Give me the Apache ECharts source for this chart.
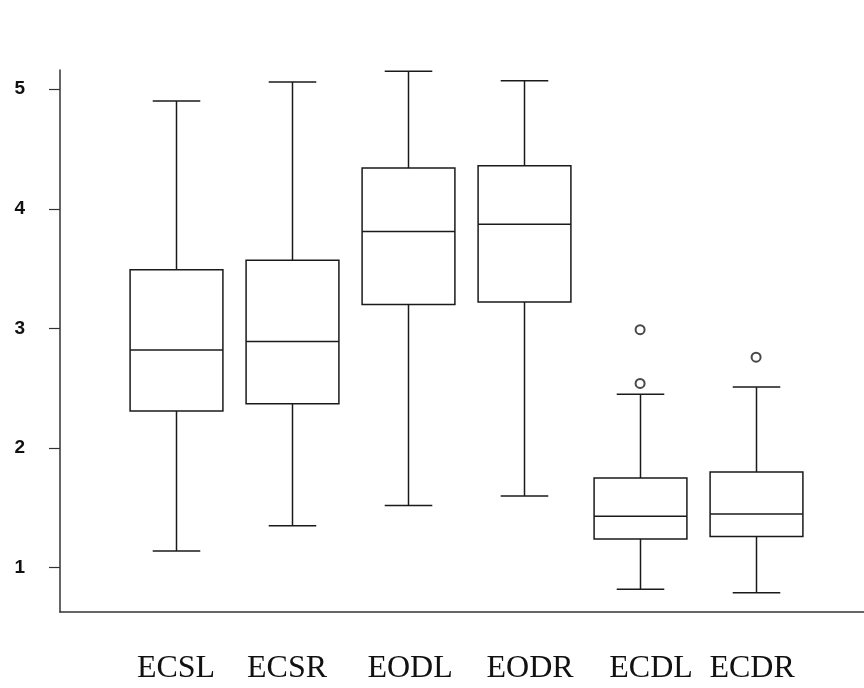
<!DOCTYPE html>
<html><head><meta charset="utf-8">
<script src="https://cdn.jsdelivr.net/npm/echarts@6/dist/echarts.min.js"></script>
<style>html,body{margin:0;padding:0;background:#fff}#c{width:864px;height:688px}</style>
</head><body><div id="c"></div>
<script>
const categories = ['ECSL', 'ECSR', 'EODL', 'EODR', 'ECDL', 'ECDR'];
const whiskerLow  = [1.14, 1.35, 1.52, 1.60, 0.82, 0.79];
const q1          = [2.31, 2.37, 3.20, 3.22, 1.24, 1.26];
const median      = [2.82, 2.89, 3.81, 3.87, 1.43, 1.45];
const q3          = [3.49, 3.57, 4.34, 4.36, 1.75, 1.80];
const whiskerHigh = [4.90, 5.06, 5.15, 5.07, 2.45, 2.51];
const outlierCategory = ['ECDL', 'ECDL', 'ECDR'];
const outlierValue    = [2.99, 2.54, 2.76];
const yTicks = [1, 2, 3, 4, 5];
const xTicks = [1, 2, 3, 4, 5, 6];

const boxData = categories.map((c, i) => [i + 1, whiskerLow[i], q1[i], median[i], q3[i], whiskerHigh[i]]);
const outlierData = outlierCategory.map((c, i) => [categories.indexOf(c) + 1, outlierValue[i]]);

// small horizontal nudges of the printed category labels (px)
const labelShift = [0, -5, 2, 6, 11, -4];
const rich = {};
labelShift.forEach((d, i) => {
  rich['s' + i] = {
    fontFamily: 'Liberation Serif', fontSize: 32, color: '#111',
    padding: d >= 0 ? [0, 0, 0, 2 * d] : [0, -2 * d, 0, 0]
  };
});

const STROKE = '#1a1a1a';
function renderItem(params, api) {
  const x = api.value(0);
  const lo = api.coord([x, api.value(1)]);
  const a = api.coord([x, api.value(2)]);
  const m = api.coord([x, api.value(3)]);
  const b = api.coord([x, api.value(4)]);
  const hi = api.coord([x, api.value(5)]);
  const bw = api.size([0.80, 0])[0];
  const cw = api.size([0.41, 0])[0];
  const cx = Math.round(lo[0]) + 0.5;
  const st = { stroke: STROKE, lineWidth: 1.5, fill: null };
  const L = (x1, y1, x2, y2) => ({ type: 'line', shape: { x1, y1, x2, y2 }, style: st });
  return {
    type: 'group',
    children: [
      { type: 'rect', shape: { x: cx - bw / 2, y: b[1], width: bw, height: a[1] - b[1] }, style: { stroke: STROKE, lineWidth: 1.5, fill: 'rgba(0,0,0,0)' } },
      L(cx - bw / 2, m[1], cx + bw / 2, m[1]),
      L(cx, b[1], cx, hi[1]),
      L(cx, a[1], cx, lo[1]),
      L(cx - cw / 2, hi[1], cx + cw / 2, hi[1]),
      L(cx - cw / 2, lo[1], cx + cw / 2, lo[1])
    ]
  };
}

const chart = echarts.init(document.getElementById('c'), null, { renderer: 'canvas' });
chart.setOption({
  animation: false,
  backgroundColor: '#ffffff',
  grid: { left: 60, right: 0, top: 70, bottom: 76 },
  xAxis: {
    type: 'value', min: 0, max: 6.93,
    splitLine: { show: false },
    axisLine: { show: true, onZero: false, lineStyle: { color: '#333', width: 1.5 } },
    axisTick: { show: false },
    axisLabel: {
      customValues: xTicks,
      formatter: v => { const i = Math.round(v) - 1; return categories[i] ? '{s' + i + '|' + categories[i] + '}' : ''; },
      rich: rich,
      fontFamily: 'Liberation Serif', fontSize: 32, color: '#111', margin: 41
    }
  },
  yAxis: {
    type: 'value', min: 0.63, max: 5.16,
    splitLine: { show: false },
    axisLine: { show: true, onZero: false, lineStyle: { color: '#333', width: 1.5 } },
    axisTick: { show: true, customValues: yTicks, length: 11, lineStyle: { color: '#333', width: 1.2 } },
    axisLabel: {
      customValues: yTicks,
      fontFamily: 'Liberation Sans', fontSize: 19, fontWeight: 'bold', color: '#111', margin: 35
    }
  },
  series: [
    { type: 'custom', renderItem: renderItem, data: boxData, encode: { x: 0, y: [1, 2, 3, 4, 5] }, z: 2 },
    { type: 'scatter', data: outlierData, symbol: 'emptyCircle', symbolSize: 9, z: 3,
      itemStyle: { color: STROKE, borderColor: STROKE, borderWidth: 1.3 } }
  ]
});
</script></body></html>
